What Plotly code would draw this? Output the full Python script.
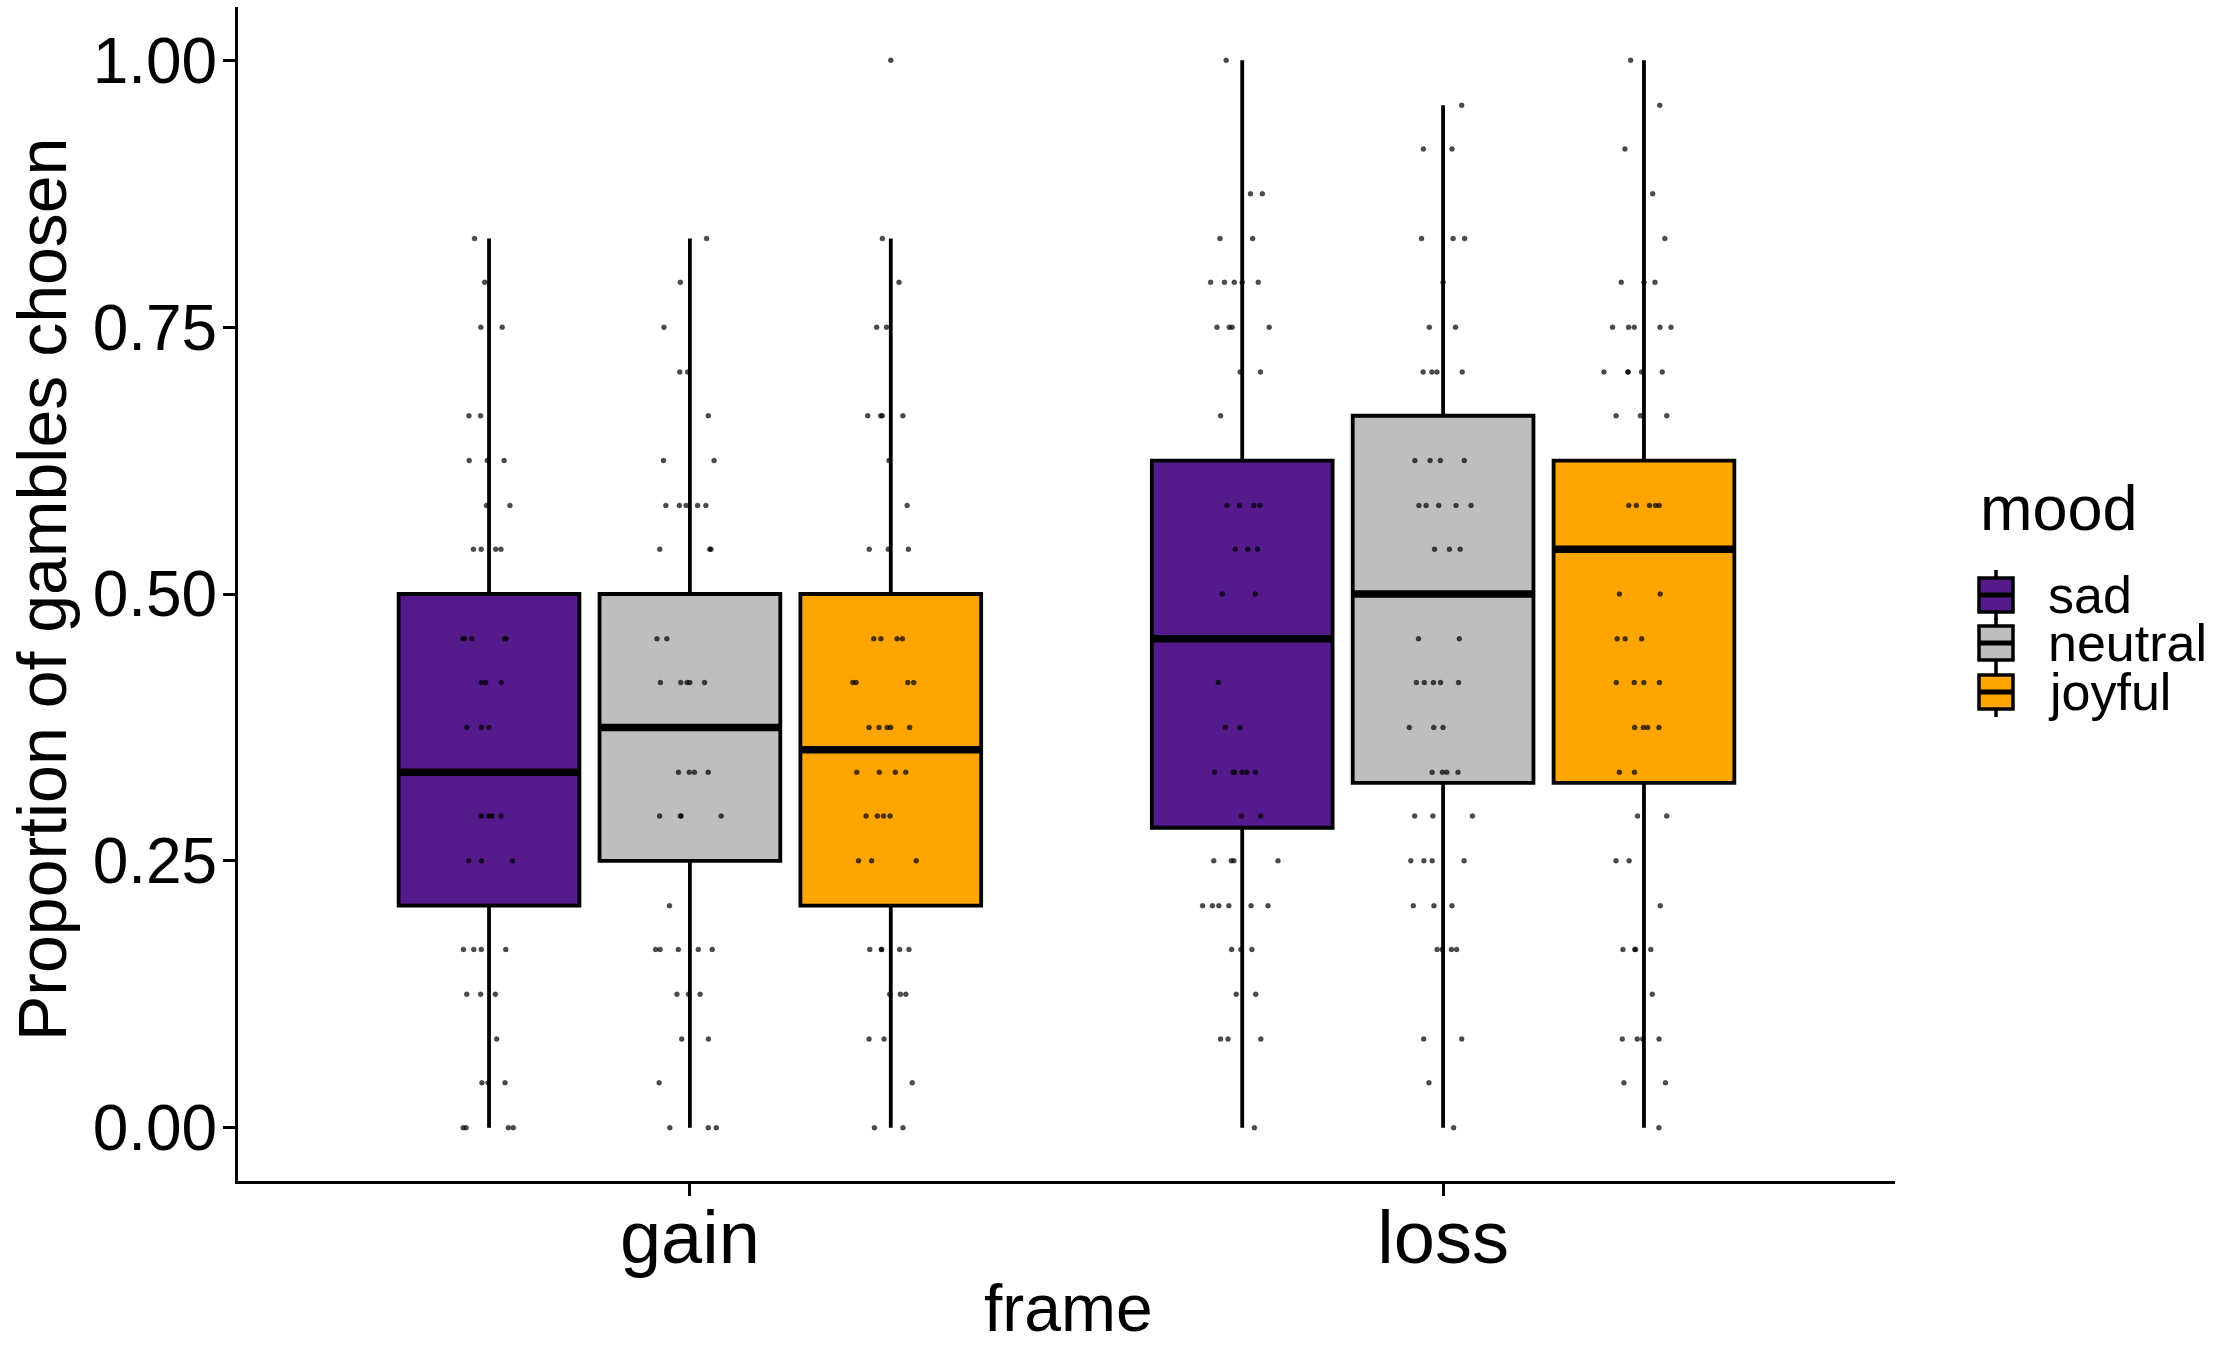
import numpy as np
import plotly.graph_objects as go

# ---------------- data ----------------
frames = ["gain", "loss"]
frame_pos = [1, 2]
moods = ["sad", "neutral", "joyful"]
mood_colors = ["#551A8B", "#BEBEBE", "#FFA500"]
mood_offsets = [-0.2667, 0.0, 0.2667]
box_width = 0.24

# box statistics per frame: [sad, neutral, joyful]
gain_q1 = [0.208, 0.250, 0.208]
gain_median = [0.333, 0.375, 0.354]
gain_q3 = [0.500, 0.500, 0.500]
gain_lower = [0.0, 0.0, 0.0]
gain_upper = [0.833, 0.833, 0.833]

loss_q1 = [0.281, 0.323, 0.323]
loss_median = [0.458, 0.500, 0.542]
loss_q3 = [0.625, 0.667, 0.625]
loss_lower = [0.0, 0.0, 0.0]
loss_upper = [1.0, 0.958, 1.0]

# individual observations: levels and how many points sit at each level
gain_sad_levels = [0.833, 0.792, 0.75, 0.667, 0.625, 0.583, 0.542, 0.458, 0.417, 0.375, 0.292, 0.25, 0.167, 0.125, 0.083, 0.042, 0.0]
gain_sad_counts = [1, 1, 2, 2, 3, 2, 4, 5, 3, 3, 4, 3, 4, 3, 1, 3, 4]

gain_neutral_levels = [0.833, 0.792, 0.75, 0.708, 0.667, 0.625, 0.583, 0.542, 0.458, 0.417, 0.333, 0.292, 0.208, 0.167, 0.125, 0.083, 0.042, 0.0]
gain_neutral_counts = [1, 1, 1, 2, 1, 2, 5, 3, 2, 5, 4, 4, 1, 5, 3, 2, 1, 3]

gain_joyful_levels = [1.0, 0.833, 0.792, 0.75, 0.667, 0.625, 0.583, 0.542, 0.458, 0.417, 0.375, 0.333, 0.292, 0.25, 0.167, 0.125, 0.083, 0.042, 0.0]
gain_joyful_counts = [1, 1, 1, 2, 4, 1, 1, 3, 4, 4, 5, 4, 4, 3, 5, 3, 2, 1, 2]

loss_sad_levels = [1.0, 0.875, 0.833, 0.792, 0.75, 0.708, 0.667, 0.583, 0.542, 0.5, 0.417, 0.375, 0.333, 0.292, 0.25, 0.208, 0.167, 0.125, 0.083, 0.0]
loss_sad_counts = [1, 2, 2, 5, 4, 2, 1, 4, 3, 2, 1, 2, 6, 2, 4, 6, 3, 2, 3, 1]

loss_neutral_levels = [0.958, 0.917, 0.833, 0.792, 0.75, 0.708, 0.625, 0.583, 0.542, 0.458, 0.417, 0.375, 0.333, 0.292, 0.25, 0.208, 0.167, 0.083, 0.042, 0.0]
loss_neutral_counts = [1, 2, 3, 1, 2, 4, 4, 5, 3, 2, 5, 3, 4, 3, 4, 3, 4, 2, 1, 1]

loss_joyful_levels = [1.0, 0.958, 0.917, 0.875, 0.833, 0.792, 0.75, 0.708, 0.667, 0.583, 0.5, 0.458, 0.417, 0.375, 0.333, 0.292, 0.25, 0.208, 0.167, 0.125, 0.083, 0.042, 0.0]
loss_joyful_counts = [1, 1, 1, 1, 1, 3, 5, 5, 3, 5, 2, 3, 4, 4, 2, 2, 2, 1, 4, 1, 4, 2, 1]

y_ticks = [0.0, 0.25, 0.5, 0.75, 1.0]
y_tick_labels = ["0.00", "0.25", "0.50", "0.75", "1.00"]

# ---------------- figure ----------------
FONT = "Liberation Sans, Arial, sans-serif"
fig = go.Figure()

stats = {
    "gain": (gain_q1, gain_median, gain_q3, gain_lower, gain_upper),
    "loss": (loss_q1, loss_median, loss_q3, loss_lower, loss_upper),
}
points = {
    ("gain", "sad"): (gain_sad_levels, gain_sad_counts),
    ("gain", "neutral"): (gain_neutral_levels, gain_neutral_counts),
    ("gain", "joyful"): (gain_joyful_levels, gain_joyful_counts),
    ("loss", "sad"): (loss_sad_levels, loss_sad_counts),
    ("loss", "neutral"): (loss_neutral_levels, loss_neutral_counts),
    ("loss", "joyful"): (loss_joyful_levels, loss_joyful_counts),
}

# boxes
for fi, fr in enumerate(frames):
    q1, med, q3, lo, hi = stats[fr]
    for mi, md in enumerate(moods):
        pos = frame_pos[fi] + mood_offsets[mi]
        fig.add_trace(go.Box(
            x=[pos], q1=[q1[mi]], median=[med[mi]], q3=[q3[mi]],
            lowerfence=[lo[mi]], upperfence=[hi[mi]],
            width=box_width, fillcolor=mood_colors[mi],
            line=dict(color="black", width=3.8), whiskerwidth=0,
            boxpoints=False, showlegend=False, name=md, hoverinfo="skip",
        ))
        # thicker median bar
        fig.add_trace(go.Scatter(
            x=[pos - box_width / 2, pos + box_width / 2], y=[med[mi], med[mi]],
            mode="lines", line=dict(color="black", width=7.5),
            showlegend=False, hoverinfo="skip",
        ))

# jittered observations
for fi, fr in enumerate(frames):
    for mi, md in enumerate(moods):
        pos = frame_pos[fi] + mood_offsets[mi]
        lv, ct = points[(fr, md)]
        yv = np.repeat(lv, ct)
        fig.add_trace(go.Box(
            x=[pos] * len(yv), y=yv, width=box_width,
            boxpoints="all", jitter=0.45, pointpos=0,
            fillcolor="rgba(0,0,0,0)", line=dict(color="rgba(0,0,0,0)", width=0),
            whiskerwidth=0,
            marker=dict(color="rgba(0,0,0,0.7)", size=5,
                        line=dict(color="rgba(0,0,0,0.5)", width=0.5)),
            showlegend=False, hoverinfo="y",
        ))

# ---------------- layout ----------------
L, R, T, B = 238, 322, 7, 167
W, H = 2217, 1348
pw, ph = W - L - R, H - T - B


def px_x(p):
    return (p - L) / pw


def px_y(p):
    return (H - B - p) / ph


fig.update_layout(
    width=W, height=H,
    margin=dict(l=L, r=R, t=T, b=B, pad=0),
    paper_bgcolor="white", plot_bgcolor="white",
    showlegend=False,
    font=dict(family=FONT, color="black"),
    xaxis=dict(
        range=[0.4, 2.6], tickmode="array", tickvals=frame_pos, ticktext=frames,
        showgrid=False, zeroline=False, showline=True, linecolor="black", linewidth=3,
        ticks="outside", ticklen=12, tickwidth=3, tickcolor="black",
        ticklabelstandoff=-22,
        tickfont=dict(size=74, family=FONT, color="black"),
    ),
    yaxis=dict(
        range=[-0.05, 1.05], tickmode="array", tickvals=y_ticks, ticktext=y_tick_labels,
        showgrid=False, zeroline=False, showline=True, linecolor="black", linewidth=3,
        ticks="outside", ticklen=12, tickwidth=3, tickcolor="black",
        ticklabelstandoff=-7,
        tickfont=dict(size=64, family=FONT, color="black"),
    ),
)

annotations = [
    dict(text="Proportion of gambles chosen", xref="paper", yref="paper",
         x=px_x(42), y=px_y(590), textangle=-90, showarrow=False,
         xanchor="center", yanchor="middle", font=dict(size=68, family=FONT, color="black")),
    dict(text="frame", xref="paper", yref="paper",
         x=px_x(1068), y=px_y(1347), showarrow=False,
         xanchor="center", yanchor="bottom", font=dict(size=66, family=FONT, color="black")),
    dict(text="mood", xref="paper", yref="paper",
         x=px_x(1978), y=px_y(508), showarrow=False,
         xanchor="left", yanchor="middle", font=dict(size=63, family=FONT, color="black")),
]

# manual legend (ggplot-style boxplot keys)
legend_rows_px = [595, 643, 692]
key_cx = 1996
shapes = []
for mi, md in enumerate(moods):
    cy = legend_rows_px[mi]
    annotations.append(dict(
        text=md, xref="paper", yref="paper", x=px_x(2046), y=px_y(cy),
        showarrow=False, xanchor="left", yanchor="middle",
        font=dict(size=52, family=FONT, color="black")))
    # whisker
    shapes.append(dict(type="line", xref="paper", yref="paper",
                       x0=px_x(key_cx), x1=px_x(key_cx), y0=px_y(cy - 25), y1=px_y(cy + 25),
                       line=dict(color="black", width=3.5)))
    # box
    shapes.append(dict(type="rect", xref="paper", yref="paper",
                       x0=px_x(key_cx - 17), x1=px_x(key_cx + 17),
                       y0=px_y(cy - 17), y1=px_y(cy + 17),
                       fillcolor=mood_colors[mi], line=dict(color="black", width=3.5)))
    # median
    shapes.append(dict(type="line", xref="paper", yref="paper",
                       x0=px_x(key_cx - 17), x1=px_x(key_cx + 17), y0=px_y(cy), y1=px_y(cy),
                       line=dict(color="black", width=5)))

fig.update_layout(annotations=annotations, shapes=shapes)

fig.write_html(
    "out.html",
    config={"displayModeBar": False},
    post_script="document.body.style.margin='0px';document.body.style.padding='0px';"
                "document.body.style.overflow='hidden';",
)
